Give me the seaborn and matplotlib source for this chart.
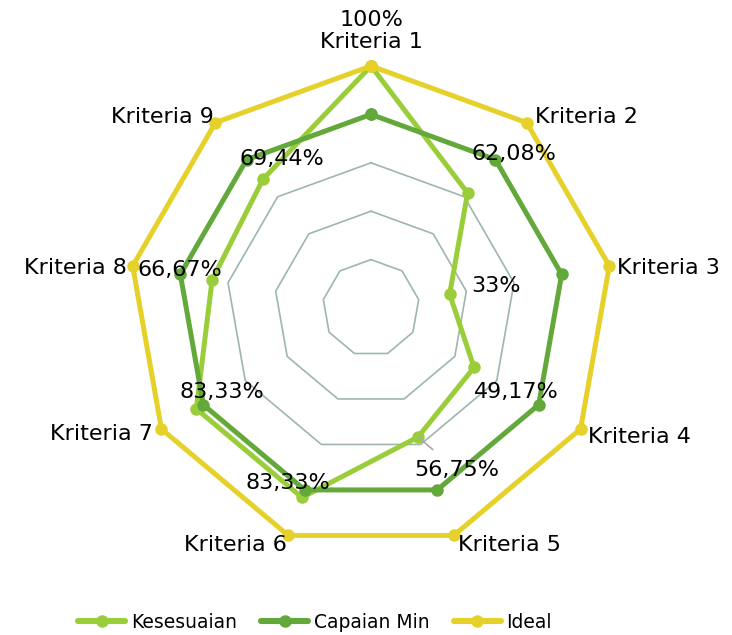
import numpy as np
import pandas as pd
import matplotlib
matplotlib.use("Agg")
import matplotlib.pyplot as plt
from matplotlib.lines import Line2D
import seaborn as sns

# data
categories = ["Kriteria 1", "Kriteria 2", "Kriteria 3", "Kriteria 4", "Kriteria 5",
              "Kriteria 6", "Kriteria 7", "Kriteria 8", "Kriteria 9"]
kesesuaian = [100, 62.08, 33, 49.17, 56.75, 83.33, 83.33, 66.67, 69.44]
capaian_min = [80, 80, 80, 80, 80, 80, 80, 80, 80]
ideal = [100, 100, 100, 100, 100, 100, 100, 100, 100]
value_labels = ["100%", "62,08%", "33%", "49,17%", "56,75%", "83,33%", "83,33%", "66,67%", "69,44%"]
series_names = ["Kesesuaian", "Capaian Min", "Ideal"]
grid_levels = [20, 40, 60, 80, 100]

colors = {"Kesesuaian": "#9acd3a", "Capaian Min": "#63a83a", "Ideal": "#e6d12a"}
grid_color = "#9db7aa"

# label offsets in pixels (placement only)
value_offsets = [(0, 46), (46, 39), (46, 8), (42, -25), (39, -33),
                 (-14, 14), (26, 17), (-32, 10), (19, 20)]
cat_offsets = [(0, 24, "center"), (8, 6, "left"), (8, -2, "left"), (7, -8, "left"),
               (4, -10, "left"), (-1, -10, "right"), (-9, -5, "right"),
               (-6, -2, "right"), (-2, 6, "right")]

n = len(categories)
theta = np.linspace(0, 2 * np.pi, n, endpoint=False)
theta_closed = np.append(theta, 2 * np.pi)

rows = []
for name, vals in zip(series_names, [kesesuaian, capaian_min, ideal]):
    closed = list(vals) + [vals[0]]
    for t, v in zip(theta_closed, closed):
        rows.append({"series": name, "theta": t, "value": v})
df = pd.DataFrame(rows)

sns.set_theme(style="white")
plt.rcParams["font.family"] = ["DejaVu Sans"]
plt.rcParams["text.color"] = "black"

fig = plt.figure(figsize=(7.32, 6.35), dpi=100)
ax = fig.add_axes([129 / 732, 85 / 635, 484 / 732, 484 / 635], projection="polar")
ax.set_theta_zero_location("N")
ax.set_theta_direction(-1)
ax.set_ylim(0, 100)
ax.grid(False)
ax.spines["polar"].set_visible(False)
ax.set_xticks([])
ax.set_yticks([])
ax.patch.set_alpha(0)

# nonagon gridlines
for lvl in grid_levels:
    ax.plot(theta_closed, [lvl] * (n + 1), color=grid_color, lw=1.2, zorder=1)

sns.lineplot(data=df, x="theta", y="value", hue="series", hue_order=series_names,
             palette=colors, sort=False, estimator=None, marker="o", markersize=9,
             markeredgewidth=0, linewidth=3.6, legend=False, ax=ax, zorder=3)
for line in ax.lines:
    line.set_clip_on(False)

# data labels for Kesesuaian
for i, (t, v, lab) in enumerate(zip(theta, kesesuaian, value_labels)):
    dx, dy = value_offsets[i]
    kw = {}
    if i == 4:
        kw["arrowprops"] = dict(arrowstyle="-", color="#aaaaaa", lw=1.2,
                                shrinkA=8, shrinkB=0)
    ax.annotate(lab, xy=(t, v), xytext=(dx, dy), textcoords="offset pixels",
                ha="center", va="center", fontsize=16, color="black", zorder=5,
                annotation_clip=False, **kw)

# category labels
for t, cat, (dx, dy, ha) in zip(theta, categories, cat_offsets):
    ax.annotate(cat, xy=(t, 100), xytext=(dx, dy), textcoords="offset pixels",
                ha=ha, va="center", fontsize=16, color="black",
                annotation_clip=False)

handles = [Line2D([0], [0], color=colors[s], lw=4.4, marker="o", markersize=9,
                  markeredgewidth=0) for s in series_names]
leg = fig.legend(handles, series_names, loc="center", bbox_to_anchor=(315 / 732, 13 / 635),
                 ncol=3, frameon=False, fontsize=13.5, handlelength=2.5, handletextpad=0.3,
                 columnspacing=1.3)
for txt in leg.get_texts():
    txt.set_color("black")

fig.savefig("out.png", dpi=100)
